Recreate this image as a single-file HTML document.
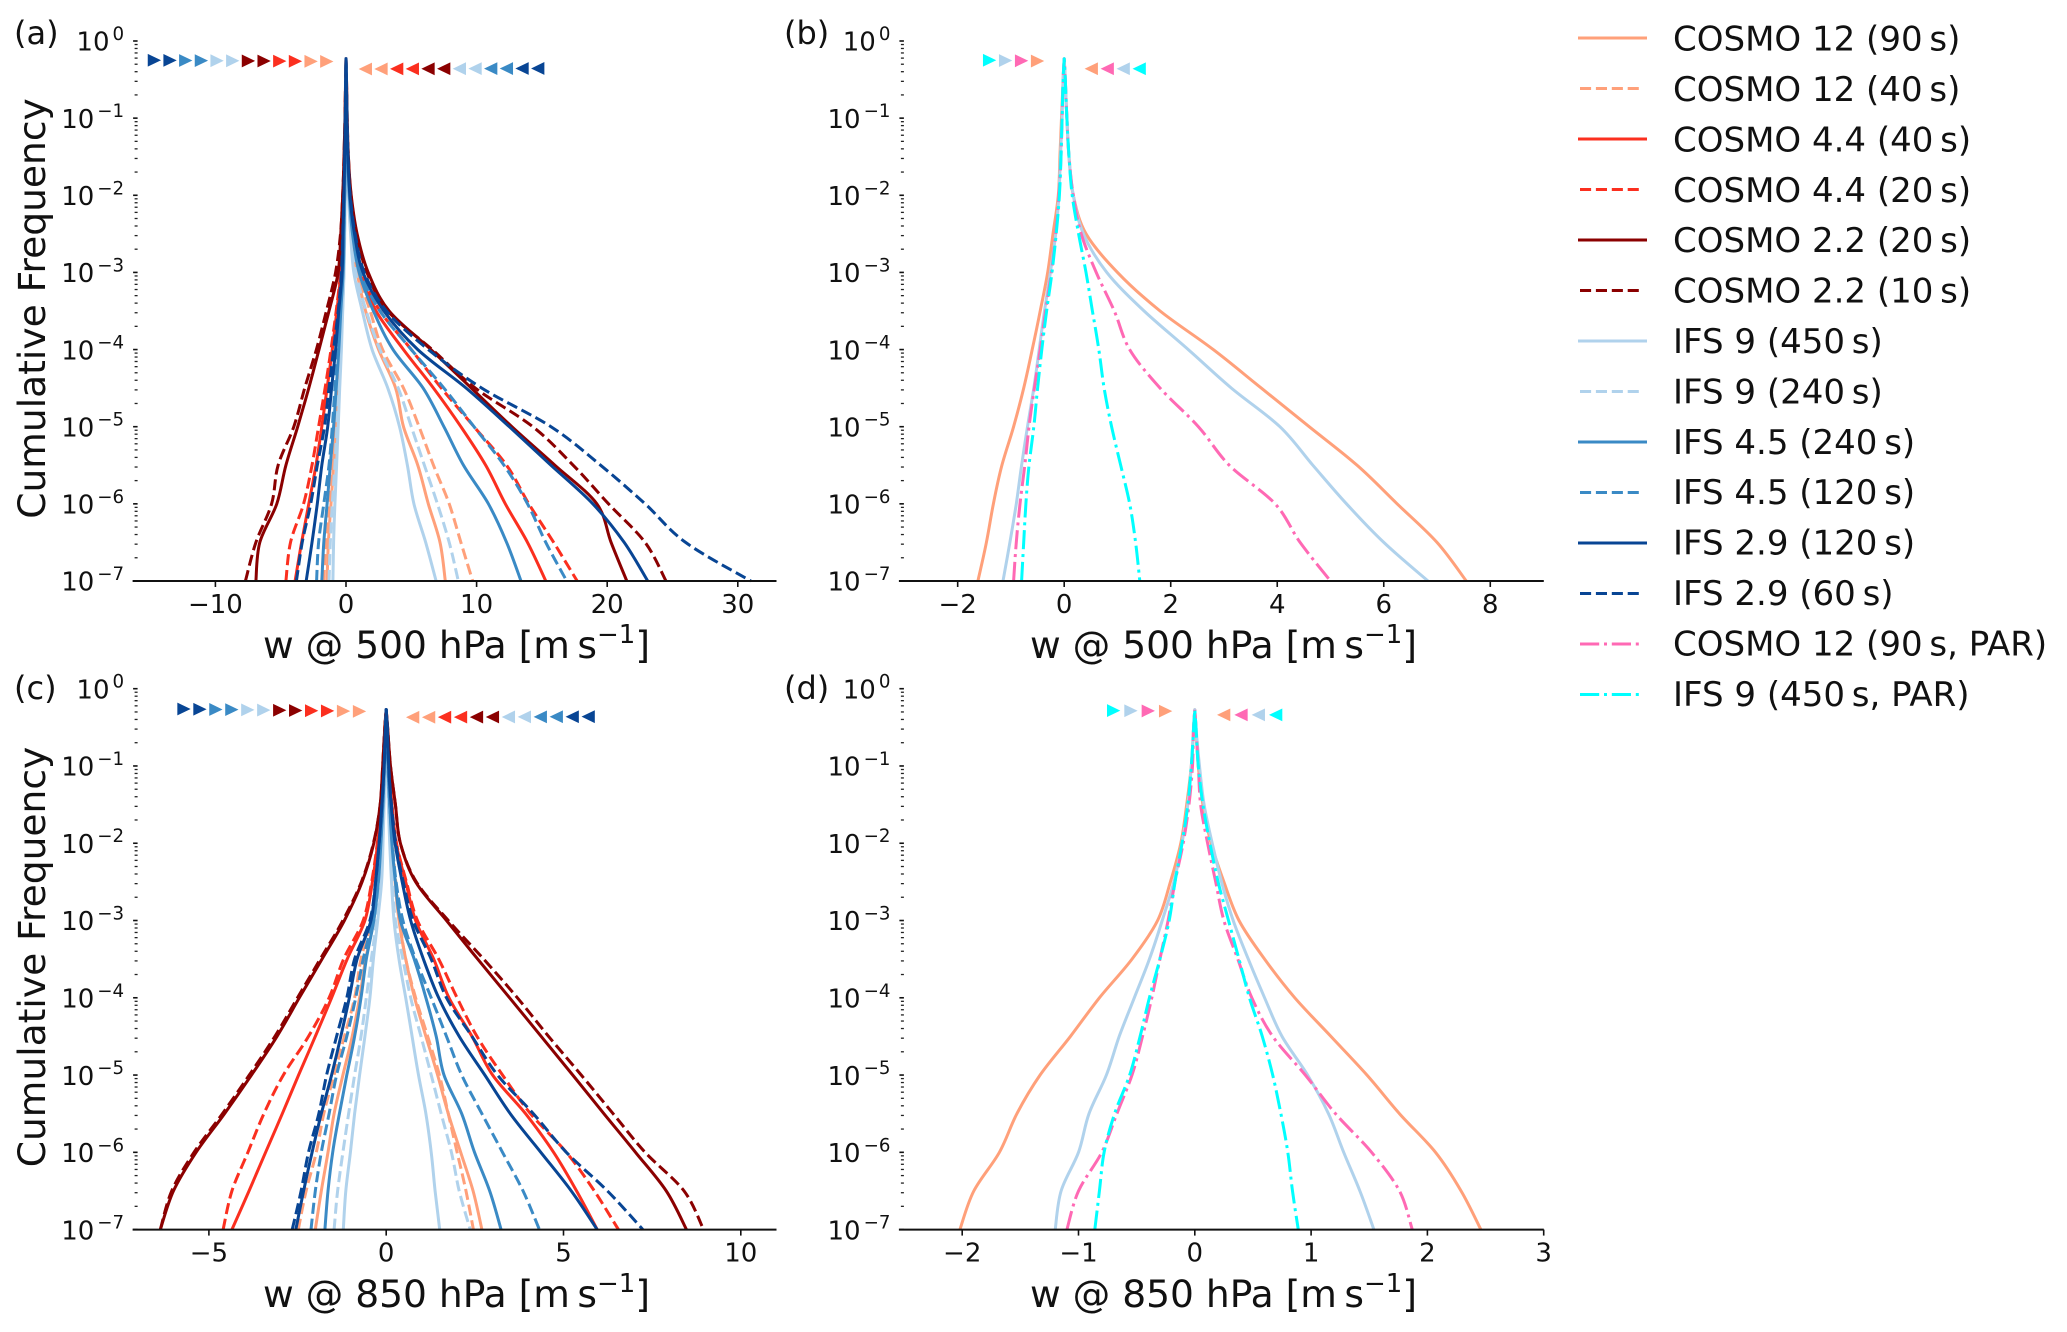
<!DOCTYPE html>
<html lang="en">
<head>
<meta charset="utf-8">
<title>Cumulative frequency of vertical velocity</title>
<style>
html,body{margin:0;padding:0;background:#fff;}
svg{display:block;}
text{font-family:"DejaVu Sans","Liberation Sans",sans-serif;fill:#111;}
.leg{font-size:34px;}
.axl{font-size:37.6px;}
.pan{font-size:32px;}
</style>
</head>
<body>
<svg id="chart" xmlns="http://www.w3.org/2000/svg" width="2067" height="1332" viewBox="0 0 2067 1332">
<rect x="0" y="0" width="2067" height="1332" fill="#fff"/>
<g id="plots"></g>

<text class="pan" x="14" y="44">(a)</text>
<text class="pan" x="784" y="44">(b)</text>
<text class="pan" x="14" y="699">(c)</text>
<text class="pan" x="784" y="699">(d)</text>

<text class="axl" transform="translate(45,308.5) rotate(-90)" text-anchor="middle">Cumulative Frequency</text>
<text class="axl" transform="translate(45,957) rotate(-90)" text-anchor="middle">Cumulative Frequency</text>

<text class="axl" x="263" y="658">w @ 500 hPa [m&#8201;s<tspan font-size="26" dy="-15">−1</tspan><tspan dy="15">]</tspan></text>
<text class="axl" x="1030" y="658">w @ 500 hPa [m&#8201;s<tspan font-size="26" dy="-15">−1</tspan><tspan dy="15">]</tspan></text>
<text class="axl" x="263" y="1307">w @ 850 hPa [m&#8201;s<tspan font-size="26" dy="-15">−1</tspan><tspan dy="15">]</tspan></text>
<text class="axl" x="1030" y="1307">w @ 850 hPa [m&#8201;s<tspan font-size="26" dy="-15">−1</tspan><tspan dy="15">]</tspan></text>

<g id="legend">
<g><line x1="1578" x2="1647" y1="38" y2="38" stroke="#ffa07a" stroke-width="3"/><text class="leg" x="1673" y="50.5">COSMO 12 (90&#8201;s)</text></g>
<g><line x1="1580" x2="1641" y1="88.5" y2="88.5" stroke="#ffa07a" stroke-width="3" stroke-dasharray="11.1 4.8"/><text class="leg" x="1673" y="101">COSMO 12 (40&#8201;s)</text></g>
<g><line x1="1578" x2="1647" y1="139" y2="139" stroke="#fb2f1f" stroke-width="3"/><text class="leg" x="1673" y="151.4">COSMO 4.4 (40&#8201;s)</text></g>
<g><line x1="1580" x2="1641" y1="189.5" y2="189.5" stroke="#fb2f1f" stroke-width="3" stroke-dasharray="11.1 4.8"/><text class="leg" x="1673" y="201.8">COSMO 4.4 (20&#8201;s)</text></g>
<g><line x1="1578" x2="1647" y1="240" y2="240" stroke="#8b0000" stroke-width="3"/><text class="leg" x="1673" y="252.2">COSMO 2.2 (20&#8201;s)</text></g>
<g><line x1="1580" x2="1641" y1="290.5" y2="290.5" stroke="#8b0000" stroke-width="3" stroke-dasharray="11.1 4.8"/><text class="leg" x="1673" y="302.6">COSMO 2.2 (10&#8201;s)</text></g>
<g><line x1="1578" x2="1647" y1="341" y2="341" stroke="#b0d2ec" stroke-width="3"/><text class="leg" x="1673" y="353">IFS 9 (450&#8201;s)</text></g>
<g><line x1="1580" x2="1641" y1="391.5" y2="391.5" stroke="#b0d2ec" stroke-width="3" stroke-dasharray="11.1 4.8"/><text class="leg" x="1673" y="403.4">IFS 9 (240&#8201;s)</text></g>
<g><line x1="1578" x2="1647" y1="442" y2="442" stroke="#3a8ac5" stroke-width="3"/><text class="leg" x="1673" y="453.8">IFS 4.5 (240&#8201;s)</text></g>
<g><line x1="1580" x2="1641" y1="492.5" y2="492.5" stroke="#3a8ac5" stroke-width="3" stroke-dasharray="11.1 4.8"/><text class="leg" x="1673" y="504.2">IFS 4.5 (120&#8201;s)</text></g>
<g><line x1="1578" x2="1647" y1="543" y2="543" stroke="#084594" stroke-width="3"/><text class="leg" x="1673" y="554.6">IFS 2.9 (120&#8201;s)</text></g>
<g><line x1="1580" x2="1641" y1="593.5" y2="593.5" stroke="#084594" stroke-width="3" stroke-dasharray="11.1 4.8"/><text class="leg" x="1673" y="605">IFS 2.9 (60&#8201;s)</text></g>
<g><line x1="1580" x2="1641" y1="644" y2="644" stroke="#ff69b4" stroke-width="3" stroke-dasharray="19.2 4.8 3 4.8"/><text class="leg" x="1673" y="655.4">COSMO 12 (90&#8201;s, PAR)</text></g>
<g><line x1="1580" x2="1641" y1="694.5" y2="694.5" stroke="#00ffff" stroke-width="3" stroke-dasharray="19.2 4.8 3 4.8"/><text class="leg" x="1673" y="705.8">IFS 9 (450&#8201;s, PAR)</text></g>
</g>
</svg>

<script>
// log10(cumulative frequency) levels shared by each profile
const levelsUpper = [-0.23,-0.5,-1,-1.5,-2,-2.5,-3,-3.5,-4,-4.5,-5,-5.5,-6,-6.5,-7];
const levelsLower = [-0.27,-0.5,-1,-1.5,-2,-2.5,-3,-3.5,-4,-4.5,-5,-5.5,-6,-6.5,-7];

// Tick labels
const xTicksA = [-10,0,10,20,30];
const xTicksB = [-2,0,2,4,6,8];
const xTicksC = [-5,0,5,10];
const xTicksD = [-2,-1,0,1,2,3];
const yExponents = [0,-1,-2,-3,-4,-5,-6,-7];
const minorMultipliers = [2,3,4,5,6,7,8,9];

// Panel (a): w @ 500 hPa, updraft side (Pos) and downdraft side (Neg)
const aC12sPos = [0,.03,.06,.12,.22,.45,.85,1.5,2.5,3.8,4.4,5.5,6.3,7.2,7.6];
const aC12sNeg = [0,-.01,-.03,-.05,-.08,-.12,-.18,-.3,-.42,-.58,-.75,-.95,-1.15,-1.35,-1.45];
const aC12dPos = [0,.03,.06,.12,.23,.47,.9,1.85,2.8,4.4,5.6,6.7,7.9,8.8,9.7];
const aC12dNeg = [0,-.01,-.03,-.05,-.08,-.13,-.2,-.33,-.48,-.65,-.85,-1.05,-1.3,-1.55,-1.7];
const aC44sPos = [0,.03,.07,.14,.27,.55,1.05,2.3,4.4,6.7,8.8,10.7,12.2,13.9,15.3];
const aC44sNeg = [0,-.02,-.06,-.11,-.18,-.28,-.4,-.7,-1.05,-1.45,-1.85,-2.3,-2.85,-3.4,-3.9];
const aC44dPos = [0,.03,.07,.15,.28,.57,1.1,2.6,5,7.3,9.8,12.3,14,15.9,17.7];
const aC44dNeg = [0,-.02,-.06,-.11,-.18,-.29,-.42,-.75,-1.15,-1.6,-2.1,-2.6,-3.25,-4.25,-4.6];
const aC22sPos = [0,.04,.09,.18,.4,.85,1.7,3.3,6.5,9.6,12.7,16,19.2,20.3,21.5];
const aC22sNeg = [0,-.03,-.08,-.15,-.25,-.4,-.6,-1.3,-2.07,-2.85,-3.7,-4.6,-5.3,-6.6,-6.9];
const aC22dPos = [0,.04,.09,.18,.38,.82,1.6,3.2,6.6,9.9,14.3,17.4,20.1,22.9,24.5];
const aC22dNeg = [0,-.03,-.08,-.15,-.25,-.42,-.8,-1.5,-2.27,-3.16,-4,-5.2,-5.7,-6.9,-7.7];
const aI9sPos = [0,.02,.05,.1,.18,.35,.6,1.25,2,3.2,4.1,4.7,5.2,6.1,6.9];
const aI9sNeg = [0,-.01,-.02,-.04,-.07,-.1,-.15,-.25,-.35,-.48,-.6,-.72,-.85,-.95,-1];
const aI9dPos = [0,.02,.05,.1,.2,.4,.75,1.55,2.6,4,5,6,7,7.9,8.6];
const aI9dNeg = [0,-.01,-.02,-.04,-.07,-.11,-.16,-.27,-.4,-.55,-.7,-.85,-1.05,-1.2,-1.3];
const aI45sPos = [0,.03,.06,.13,.25,.5,1,2.1,3.6,5.9,7.5,9,10.9,12.3,13.4];
const aI45sNeg = [0,-.01,-.03,-.06,-.09,-.15,-.22,-.4,-.55,-.75,-.95,-1.2,-1.45,-1.7,-1.85];
const aI45dPos = [0,.03,.07,.14,.28,.55,1.1,2.6,5,7.5,9.8,12.1,13.9,15.3,16.9];
const aI45dNeg = [0,-.02,-.04,-.07,-.1,-.16,-.25,-.45,-.65,-.85,-1.05,-1.3,-1.7,-2.1,-2.25];
const aI29sPos = [0,.03,.07,.15,.3,.65,1.3,2.9,5.5,9.2,12.5,15.7,18.9,21.3,23.1];
const aI29sNeg = [0,-.02,-.05,-.1,-.16,-.23,-.3,-.55,-.8,-1.1,-1.4,-1.85,-2.2,-2.6,-3.05];
const aI29dPos = [0,.03,.07,.16,.32,.7,1.4,3.1,6.3,10.4,15.7,19.5,22.9,26,31];
const aI29dNeg = [0,-.02,-.05,-.1,-.17,-.25,-.35,-.6,-.95,-1.3,-1.65,-2.2,-2.7,-3.35,-3.8];

// Panel (b): w @ 500 hPa, 12 km / 9 km and parameterised runs
const bC12sPos = [0,.02,.05,.09,.17,.41,1.0,1.8,2.8,3.7,4.6,5.5,6.25,7,7.55];
const bC12sNeg = [0,-.02,-.05,-.08,-.11,-.21,-.31,-.45,-.6,-.76,-.95,-1.17,-1.33,-1.46,-1.62];
const bI9sPos = [0,.02,.05,.09,.17,.36,.8,1.5,2.33,3.14,4.05,4.67,5.3,6,6.83];
const bI9sNeg = [0,-.02,-.04,-.07,-.1,-.16,-.26,-.37,-.47,-.57,-.69,-.8,-.9,-1.02,-1.15];
const bPcPos = [0,.02,.05,.09,.17,.32,.6,.94,1.23,1.8,2.52,3.1,3.96,4.43,5];
const bPcNeg = [0,-.02,-.04,-.06,-.1,-.16,-.24,-.35,-.45,-.56,-.66,-.74,-.83,-.9,-.95];
const bPiPos = [0,.02,.05,.09,.15,.27,.41,.53,.65,.75,.89,1.06,1.23,1.34,1.42];
const bPiNeg = [0,-.02,-.04,-.06,-.09,-.15,-.23,-.33,-.42,-.5,-.57,-.66,-.72,-.76,-.8];

// Panel (c): w @ 850 hPa
const cC12sPos = [0,.02,.05,.1,.16,.25,.36,.55,.8,1.12,1.45,1.75,2.1,2.45,2.7];
const cC12sNeg = [0,-.02,-.05,-.1,-.16,-.24,-.35,-.58,-.75,-.96,-1.22,-1.47,-1.64,-1.83,-2];
const cC12dPos = [0,.02,.05,.1,.17,.27,.38,.55,.83,1.17,1.5,1.75,2,2.25,2.46];
const cC12dNeg = [0,-.02,-.05,-.1,-.17,-.27,-.42,-.71,-.89,-1.18,-1.47,-1.76,-1.97,-2.26,-2.48];
const cC44sPos = [0,.03,.08,.16,.28,.55,.83,1.34,1.77,2.42,3,3.93,4.72,5.37,5.95];
const cC44sNeg = [0,-.03,-.07,-.14,-.24,-.39,-.6,-1.1,-1.54,-2,-2.47,-2.93,-3.4,-3.87,-4.35];
const cC44dPos = [0,.03,.08,.16,.29,.57,.88,1.48,2,2.56,3.28,4.07,5.08,5.87,6.55];
const cC44dNeg = [0,-.03,-.07,-.14,-.25,-.41,-.65,-1.2,-1.61,-2.19,-2.9,-3.45,-3.9,-4.35,-4.6];
const cC22sPos = [0,.04,.12,.26,.4,.83,1.7,2.58,3.48,4.37,5.26,6.14,7.03,7.9,8.47];
const cC22sNeg = [0,-.04,-.1,-.17,-.35,-.68,-1.18,-1.81,-2.45,-3.08,-3.8,-4.56,-5.36,-6,-6.37];
const cC22dPos = [0,.04,.12,.26,.4,.85,1.75,2.75,3.7,4.58,5.5,6.4,7.3,8.4,8.95];
const cC22dNeg = [0,-.04,-.1,-.17,-.36,-.7,-1.22,-1.86,-2.5,-3.14,-3.86,-4.62,-5.42,-6.05,-6.37];
const cI9sPos = [0,.01,.03,.06,.1,.15,.22,.36,.55,.73,.91,1.12,1.27,1.38,1.51];
const cI9sNeg = [0,-.01,-.03,-.06,-.09,-.13,-.24,-.36,-.46,-.6,-.75,-.89,-1.01,-1.14,-1.21];
const cI9dPos = [0,.01,.03,.07,.12,.18,.26,.47,.69,.98,1.27,1.55,1.84,2.06,2.37];
const cI9dNeg = [0,-.01,-.03,-.06,-.1,-.16,-.27,-.42,-.56,-.71,-.89,-1.06,-1.22,-1.37,-1.47];
const cI45sPos = [0,.02,.05,.1,.16,.26,.4,.79,1.12,1.41,1.63,2.13,2.49,2.92,3.24];
const cI45sNeg = [0,-.02,-.05,-.09,-.15,-.22,-.35,-.56,-.71,-.89,-1.11,-1.32,-1.51,-1.64,-1.73];
const cI45dPos = [0,.02,.05,.1,.17,.28,.47,.83,1.27,1.7,2.13,2.7,3.28,3.86,4.32];
const cI45dNeg = [0,-.02,-.05,-.1,-.16,-.25,-.39,-.65,-.86,-1.11,-1.4,-1.61,-1.83,-2,-2.12];
const cI29sPos = [0,.03,.07,.14,.25,.45,.69,1.05,1.48,2.06,2.78,3.5,4.36,5.22,5.95];
const cI29sNeg = [0,-.02,-.06,-.12,-.2,-.3,-.43,-.82,-1.04,-1.28,-1.54,-1.83,-2.09,-2.33,-2.55];
const cI29dPos = [0,.03,.07,.15,.27,.48,.76,1.27,1.7,2.42,3.14,4.15,5.08,6.24,7.24];
const cI29dNeg = [0,-.02,-.06,-.12,-.2,-.3,-.46,-.89,-1.11,-1.4,-1.68,-1.9,-2.19,-2.4,-2.65];

// Panel (d): w @ 850 hPa, 12 km / 9 km and parameterised runs
const dC12sPos = [0,.01,.03,.07,.14,.25,.38,.6,.86,1.17,1.48,1.76,2.07,2.29,2.46];
const dC12sNeg = [0,-.01,-.03,-.07,-.12,-.21,-.32,-.54,-.82,-1.07,-1.33,-1.53,-1.68,-1.9,-2.02];
const dI9sPos = [0,.01,.04,.08,.15,.23,.33,.46,.6,.75,.97,1.15,1.28,1.42,1.54];
const dI9sNeg = [0,-.01,-.03,-.06,-.11,-.18,-.28,-.39,-.52,-.65,-.76,-.91,-1,-1.15,-1.2];
const dPcPos = [0,.01,.03,.05,.11,.18,.25,.37,.49,.67,.95,1.21,1.52,1.76,1.87];
const dPcNeg = [0,-.01,-.02,-.05,-.1,-.17,-.23,-.3,-.37,-.45,-.54,-.67,-.8,-1,-1.1];
const dPiPos = [0,.01,.03,.07,.13,.2,.29,.38,.47,.58,.67,.74,.8,.84,.89];
const dPiNeg = [0,-.01,-.03,-.06,-.11,-.17,-.22,-.3,-.39,-.47,-.56,-.69,-.78,-.82,-.86];

// Marker colour sequences at the top of each panel
const markersFullRight = ['i29','i29','i45','i45','i9','i9','c22','c22','c44','c44','c12','c12'];
const markersFullLeft = ['c12','c12','c44','c44','c22','c22','i9','i9','i45','i45','i29','i29'];
const markersParRight = ['pi','i9','pc','c12'];
const markersParLeft = ['c12','pc','i9','pi'];

const colours = {c12:'#ffa07a',c44:'#fb2f1f',c22:'#8b0000',i9:'#b0d2ec',i45:'#3a8ac5',i29:'#084594',pc:'#ff69b4',pi:'#00ffff'};
const DASH = '11.1 4.8';
const DASHDOT = '19.2 4.8 3 4.8';

const panels = [
 {id:'a',xLeft:132.6,xRight:776.5,x0:346,k:13.06,yTop:41,dec:77.14,levels:levelsUpper,ticks:xTicksA,
  mR:{seq:markersFullRight,w:-15.18,step:1.2,e0:-.25,e1:-.265},mL:{seq:markersFullLeft,w:.97,step:1.2,e0:-.363,e1:-.356},
  series:[['cosmo-12-90s','c12',null,aC12sPos,aC12sNeg],['cosmo-12-40s','c12',DASH,aC12dPos,aC12dNeg],['cosmo-4-4-40s','c44',null,aC44sPos,aC44sNeg],['cosmo-4-4-20s','c44',DASH,aC44dPos,aC44dNeg],['cosmo-2-2-20s','c22',null,aC22sPos,aC22sNeg],['cosmo-2-2-10s','c22',DASH,aC22dPos,aC22dNeg],['ifs-9-450s','i9',null,aI9sPos,aI9sNeg],['ifs-9-240s','i9',DASH,aI9dPos,aI9dNeg],['ifs-4-5-240s','i45',null,aI45sPos,aI45sNeg],['ifs-4-5-120s','i45',DASH,aI45dPos,aI45dNeg],['ifs-2-9-120s','i29',null,aI29sPos,aI29sNeg],['ifs-2-9-60s','i29',DASH,aI29dPos,aI29dNeg]]},
 {id:'b',xLeft:898.9,xRight:1543.8,x0:1064.2,k:53.26,yTop:41,dec:77.14,levels:levelsUpper,ticks:xTicksB,
  mR:{seq:markersParRight,w:-1.525,step:.3,e0:-.25,e1:-.26},mL:{seq:markersParLeft,w:.383,step:.3,e0:-.36,e1:-.36},
  series:[['cosmo-12-90s','c12',null,bC12sPos,bC12sNeg],['ifs-9-450s','i9',null,bI9sPos,bI9sNeg],['cosmo-12-90s-par','pc',DASHDOT,bPcPos,bPcNeg],['ifs-9-450s-par','pi',DASHDOT,bPiPos,bPiNeg]]},
 {id:'c',xLeft:132.6,xRight:776.5,x0:386.2,k:35.46,yTop:688.7,dec:77.27,levels:levelsLower,ticks:xTicksC,
  mR:{seq:markersFullRight,w:-5.89,step:.45,e0:-.263,e1:-.293},mL:{seq:markersFullLeft,w:.558,step:.45,e0:-.37,e1:-.362},
  series:[['cosmo-12-90s','c12',null,cC12sPos,cC12sNeg],['cosmo-12-40s','c12',DASH,cC12dPos,cC12dNeg],['cosmo-4-4-40s','c44',null,cC44sPos,cC44sNeg],['cosmo-4-4-20s','c44',DASH,cC44dPos,cC44dNeg],['cosmo-2-2-20s','c22',null,cC22sPos,cC22sNeg],['cosmo-2-2-10s','c22',DASH,cC22dPos,cC22dNeg],['ifs-9-450s','i9',null,cI9sPos,cI9sNeg],['ifs-9-240s','i9',DASH,cI9dPos,cI9dNeg],['ifs-4-5-240s','i45',null,cI45sPos,cI45sNeg],['ifs-4-5-120s','i45',DASH,cI45dPos,cI45dNeg],['ifs-2-9-120s','i29',null,cI29sPos,cI29sNeg],['ifs-2-9-60s','i29',DASH,cI29dPos,cI29dNeg]]},
 {id:'d',xLeft:898.9,xRight:1543.8,x0:1194.8,k:116.3,yTop:688.7,dec:77.27,levels:levelsLower,ticks:xTicksD,
  mR:{seq:markersParRight,w:-.755,step:.149,e0:-.283,e1:-.29},mL:{seq:markersParLeft,w:.191,step:.149,e0:-.339,e1:-.339},
  series:[['cosmo-12-90s','c12',null,dC12sPos,dC12sNeg],['ifs-9-450s','i9',null,dI9sPos,dI9sNeg],['cosmo-12-90s-par','pc',DASHDOT,dPcPos,dPcNeg],['ifs-9-450s-par','pi',DASHDOT,dPiPos,dPiNeg]]}
];

const NS = 'http://www.w3.org/2000/svg';
const root = document.getElementById('plots');
function mk(tag, parent, attrs){
  const el = document.createElementNS(NS, tag);
  for (const a in attrs) el.setAttribute(a, attrs[a]);
  parent.appendChild(el);
  return el;
}
// Smooth curve through points (Catmull-Rom to cubic Bezier), ends clamped
function smooth(pts){
  let d = '';
  for (let i = 0; i < pts.length - 1; i++){
    const p0 = pts[Math.max(i - 1, 0)], p1 = pts[i], p2 = pts[i + 1], p3 = pts[Math.min(i + 2, pts.length - 1)];
    const c1x = p1[0] + (p2[0] - p0[0]) / 6, c1y = p1[1] + (p2[1] - p0[1]) / 6;
    const c2x = p2[0] - (p3[0] - p1[0]) / 6, c2y = p2[1] - (p3[1] - p1[1]) / 6;
    d += ' C' + c1x.toFixed(1) + ' ' + c1y.toFixed(1) + ' ' + c2x.toFixed(1) + ' ' + c2y.toFixed(1) + ' ' + p2[0].toFixed(1) + ' ' + p2[1].toFixed(1);
  }
  return d;
}
panels.forEach(function(p){
  const xScale = function(w){ return p.x0 + w * p.k; };
  const yScale = function(e){ return p.yTop - e * p.dec; };
  const yBase = yScale(-7);

  const g = mk('g', root, {});
  
  

  // profile lines: bottom of downdraft side up to the apex, then down the updraft side
  p.series.forEach(function(s){
    const neg = s[4].map(function(w, i){ return [xScale(w), yScale(p.levels[i])]; }).reverse();
    const pos = s[3].map(function(w, i){ return [xScale(w), yScale(p.levels[i])]; });
    const d = 'M' + neg[0][0].toFixed(1) + ' ' + neg[0][1].toFixed(1) + smooth(neg) + smooth(pos);
    const line = mk('path', g, {d: d, fill:'none', stroke: colours[s[1]], 'stroke-width':3, 'stroke-linejoin':'round'});
    if (s[2]) line.setAttribute('stroke-dasharray', s[2]);
    
    
  });

  // x axis
  const axis = mk('line', g, {x1:p.xLeft, x2:p.xRight, y1:yBase, y2:yBase, stroke:'#111', 'stroke-width':2});
  
  
  p.ticks.forEach(function(t){
    const x = xScale(t);
    const tick = mk('line', g, {x1:x, x2:x, y1:yBase, y2:yBase + 6, stroke:'#111', 'stroke-width':1.6});
    
    
    const lab = mk('text', g, {x:x, y:yBase + 32, 'text-anchor':'middle', 'font-size':26});
    lab.textContent = String(t).replace('-', '\u2212');
    
    
  });

  // y axis ticks and labels
  yExponents.forEach(function(e){
    const y = yScale(e);
    const tick = mk('line', g, {x1:p.xLeft + .5, x2:p.xLeft + 5, y1:y, y2:y, stroke:'#111', 'stroke-width':1.6});
    
    
    if (e > -7) minorMultipliers.forEach(function(m){
      const ym = yScale(e - 1 + Math.log10(m));
      const mt = mk('line', g, {x1:p.xLeft + 2, x2:p.xLeft + 5, y1:ym, y2:ym, stroke:'#222', 'stroke-width':1.3});
      
      
    });
    const lab = mk('text', g, {x:p.xLeft - 8.5, y:y + 9.7, 'text-anchor':'end', 'font-size':26});
    lab.appendChild(document.createTextNode('10'));
    const sup = mk('tspan', lab, {dy:-10.7, dx:3, 'font-size':18.2});
    sup.textContent = String(e).replace('-', '\u2212');
    
    
  });

  // triangle markers
  [[p.mR, 1, 'right'], [p.mL, -1, 'left']].forEach(function(row){
    const m = row[0], dir = row[1];
    m.seq.forEach(function(key, i){
      const x = xScale(m.w + i * m.step);
      const y = yScale(m.e0 + (m.e1 - m.e0) * i / (m.seq.length - 1));
      const pts = dir > 0
        ? [x, y - 6.4, x + 13.3, y, x, y + 6.4]
        : [x, y, x + 13.3, y - 6.4, x + 13.3, y + 6.4];
      const tri = mk('polygon', g, {points: pts.join(' '), fill: colours[key]});
      
      
    });
  });
});
</script>
</body>
</html>
